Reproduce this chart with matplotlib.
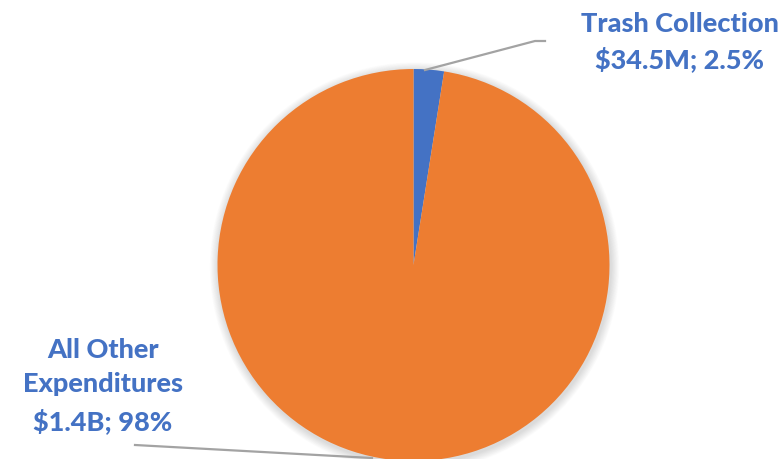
import matplotlib
matplotlib.use("Agg")
import matplotlib.pyplot as plt

# Budget shares (percent of total expenditures)
categories = ["Trash Collection", "All Other Expenditures"]
shares = [2.5, 97.5]
amounts = ["$34.5M", "$1.4B"]
pct_labels = ["2.5%", "98%"]

W, H = 784, 459
fig = plt.figure(figsize=(W / 100, H / 100), dpi=100)
ax = fig.add_axes([0, 0, 1, 1])

cx, cy, r = 413.5, H - 265, 196
colors = ["#4472C4", "#ED7D31"]

# soft drop shadow around the pie
for i in range(12):
    shadow = plt.Circle((cx + 1, cy - 2), r + 1 + i * 0.7, color="#000000",
                        alpha=0.012, lw=0, zorder=0)
    ax.add_patch(shadow)

ax.pie(shares, colors=colors, startangle=90, counterclock=False,
       center=(cx, cy), radius=r, frame=True,
       wedgeprops=dict(linewidth=0, zorder=2))
ax.set_xlim(0, W)
ax.set_ylim(0, H)
ax.set_aspect("equal")
ax.axis("off")

# leader lines from slices to their labels
line_color = "#A3A3A3"
ax.plot([425, 535, 545], [H - 70, H - 41, H - 41], color=line_color, lw=1.6, zorder=3)
ax.plot([135, 372], [H - 445, H - 458], color=line_color, lw=1.6, zorder=3)

txt_color = "#4472C4"
font = dict(family=["Lato", "DejaVu Sans"], fontweight=900, fontsize=19.5,
            color=txt_color, ha="center", va="baseline")
ax.text(680, H - 32, categories[0], **font)
ax.text(680, H - 68, f"{amounts[0]}; {pct_labels[0]}", **font)
ax.text(103, H - 358, "All Other", **font)
ax.text(103, H - 392, "Expenditures", **font)
ax.text(103, H - 430, f"{amounts[1]}; {pct_labels[1]}", **font)

fig.savefig("out.png", dpi=100)
